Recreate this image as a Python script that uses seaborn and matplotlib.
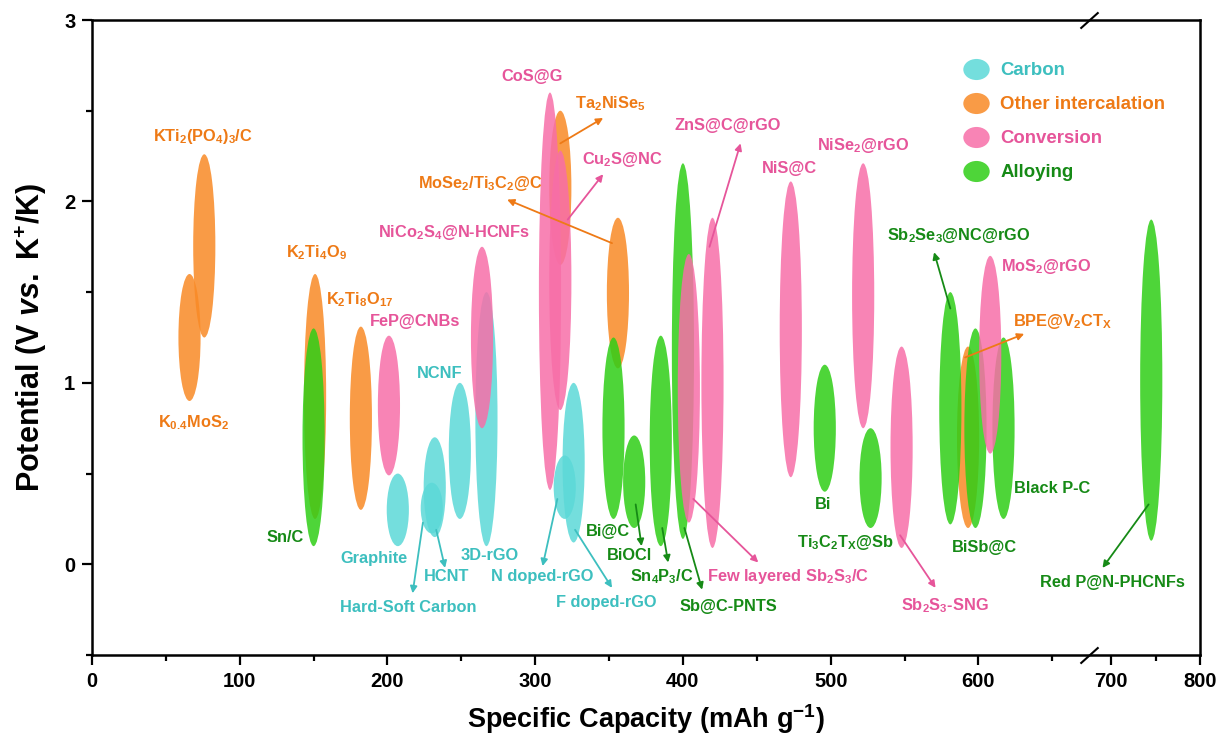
import numpy as np
import matplotlib
matplotlib.use("Agg")
import matplotlib.pyplot as plt
import seaborn as sns
from matplotlib.patches import Ellipse
from matplotlib.path import Path
from matplotlib.transforms import Affine2D, blended_transform_factory
from matplotlib.lines import Line2D

# ---------------- data ----------------
categories = ["Carbon", "Other intercalation", "Conversion", "Alloying"]

materials = [
    # Carbon
    "Graphite", "Hard-Soft Carbon", "HCNT", "NCNF", "3D-rGO", "N doped-rGO", "F doped-rGO",
    # Other intercalation
    "K0.4MoS2", "KTi2(PO4)3/C", "K2Ti4O9", "K2Ti8O17", "Ta2NiSe5", "MoSe2/Ti3C2@C", "BPE@V2CTx",
    # Conversion
    "FeP@CNBs", "NiCo2S4@N-HCNFs", "CoS@G", "Cu2S@NC", "Few layered Sb2S3/C", "ZnS@C@rGO",
    "NiS@C", "NiSe2@rGO", "Sb2S3-SNG", "MoS2@rGO",
    # Alloying
    "Sn/C", "Bi@C", "BiOCl", "Sn4P3/C", "Sb@C-PNTS", "Bi", "Ti3C2Tx@Sb", "Sb2Se3@NC@rGO",
    "BiSb@C", "Black P-C", "Red P@N-PHCNFs",
]
material_type = (["Carbon"] * 7 + ["Other intercalation"] * 7 + ["Conversion"] * 10
                 + ["Alloying"] * 11)
capacity = [207, 230, 232, 249, 267, 320, 326,
            66, 76, 151, 182, 317, 356, 593,
            201, 264, 310, 317, 404, 420, 473, 522, 548, 608,
            150, 353, 367, 385, 400, 496, 527, 581, 598, 617, 745]
v_low = [0.10, 0.17, 0.15, 0.25, 0.10, 0.25, 0.12,
         0.90, 1.25, 0.25, 0.30, 1.65, 1.08, 0.20,
         0.49, 0.75, 0.41, 0.85, 0.23, 0.09, 0.48, 0.75, 0.09, 0.61,
         0.10, 0.25, 0.20, 0.10, 0.14, 0.40, 0.20, 0.22, 0.20, 0.25, 0.13]
v_high = [0.50, 0.45, 0.70, 1.00, 1.50, 0.60, 1.00,
          1.60, 2.26, 1.60, 1.31, 2.50, 1.91, 1.20,
          1.26, 1.75, 2.60, 2.28, 1.71, 1.91, 2.11, 2.21, 1.20, 1.70,
          1.30, 1.25, 0.71, 1.26, 2.21, 1.10, 0.75, 1.50, 1.30, 1.25, 1.90]

# labels: text, x, y, category
label_text = [
    r"KTi$_2$(PO$_4$)$_3$/C", r"K$_{0.4}$MoS$_2$", r"K$_2$Ti$_4$O$_9$", r"K$_2$Ti$_8$O$_{17}$",
    "FeP@CNBs", r"NiCo$_2$S$_4$@N-HCNFs", "NCNF", "Graphite", "Sn/C", "Hard-Soft Carbon",
    "3D-rGO", "HCNT", "N doped-rGO", "F doped-rGO", "Bi@C", "BiOCl", r"Sn$_4$P$_3$/C",
    "Sb@C-PNTS", r"Few layered Sb$_2$S$_3$/C", "Bi", r"Ti$_3$C$_2$T$_\mathbf{X}$@Sb",
    r"Sb$_2$S$_3$-SNG", "BiSb@C", "Black P-C", "Red P@N-PHCNFs", r"BPE@V$_2$CT$_\mathbf{X}$",
    r"NiSe$_2$@rGO", r"Sb$_2$Se$_3$@NC@rGO", r"MoS$_2$@rGO", "CoS@G", r"Ta$_2$NiSe$_5$",
    "ZnS@C@rGO", r"Cu$_2$S@NC", r"MoSe$_2$/Ti$_3$C$_2$@C", "NiS@C",
]
label_x = [75, 69, 152, 181, 219, 245, 235, 191, 131, 214,
           269, 240, 305, 348, 349, 364, 386, 431, 471, 495, 510,
           577, 604, 650, 701, 657, 522, 587, 646, 298, 351,
           430, 359, 263, 472]
label_y = [2.36, 0.78, 1.72, 1.46, 1.34, 1.83, 1.05, 0.03, 0.15, -0.24,
           0.05, -0.07, -0.07, -0.21, 0.18, 0.05, -0.07, -0.23, -0.07, 0.33, 0.12,
           -0.23, 0.09, 0.42, -0.10, 1.34, 2.31, 1.81, 1.64, 2.69, 2.54,
           2.42, 2.23, 2.10, 2.18]
label_cat = ["Other intercalation"] * 4 + ["Conversion"] * 2 + ["Carbon"] * 2 + ["Alloying"] + \
            ["Carbon"] * 5 + ["Alloying"] * 4 + ["Conversion"] + ["Alloying"] * 2 + \
            ["Conversion"] + ["Alloying"] * 3 + ["Other intercalation"] + ["Conversion"] + \
            ["Alloying"] + ["Conversion"] * 2 + ["Other intercalation"] + ["Conversion"] * 2 + \
            ["Other intercalation"] + ["Conversion"]

# arrows: tail (x, y) -> head (x, y), category
arrow_tail_x = [317, 352, 322, 418, 581, 591, 742, 547, 407, 401, 386, 368, 315, 327, 233, 224]
arrow_tail_y = [2.32, 1.77, 1.90, 1.75, 1.41, 1.14, 0.33, 0.16, 0.36, 0.20, 0.20, 0.33, 0.36, 0.19, 0.19, 0.23]
arrow_head_x = [346, 281, 346, 439, 570, 631, 690, 571, 451, 413, 390, 372, 305, 352, 239, 217]
arrow_head_y = [2.46, 2.01, 2.15, 2.32, 1.72, 1.27, -0.02, -0.13, 0.01, -0.14, 0.01, 0.10, -0.01, -0.13, -0.02, -0.16]
arrow_cat = ["Other intercalation", "Other intercalation", "Conversion", "Conversion",
             "Alloying", "Other intercalation", "Alloying", "Conversion", "Conversion",
             "Alloying", "Alloying", "Alloying", "Carbon", "Carbon", "Carbon", "Carbon"]

x_ticks = [0, 100, 200, 300, 400, 500, 600, 700, 800]
y_ticks = [0, 1, 2, 3]

# ---------------- style ----------------
sns.set_theme(style="ticks")
plt.rcParams["font.family"] = ["Liberation Sans", "DejaVu Sans"]
plt.rcParams["font.weight"] = "bold"
plt.rcParams["axes.labelweight"] = "bold"
plt.rcParams["axes.labelcolor"] = "black"
plt.rcParams["text.color"] = "black"
plt.rcParams["xtick.labelsize"] = 14.5
plt.rcParams["ytick.labelsize"] = 14.5
plt.rcParams["mathtext.fontset"] = "custom"
plt.rcParams["mathtext.rm"] = "Liberation Sans:bold"
plt.rcParams["mathtext.bf"] = "Liberation Sans:bold"
plt.rcParams["mathtext.it"] = "Liberation Sans:italic:bold"
plt.rcParams["mathtext.default"] = "bf"

fill = {"Carbon": "#5cd9d8", "Other intercalation": "#f98a26",
        "Conversion": "#f76ea8", "Alloying": "#2fce16"}
tcol = {"Carbon": "#3dbfbf", "Other intercalation": "#ee7a16",
        "Conversion": "#e6559a", "Alloying": "#168a16"}
zord = {"Carbon": 2, "Other intercalation": 3, "Alloying": 4, "Conversion": 5}

BREAK = 675.0
SLOPE = 0.6


def fwd(x):
    x = np.asarray(x, dtype=float)
    return np.where(x <= BREAK, x, BREAK + (x - BREAK) * SLOPE)


def inv(y):
    y = np.asarray(y, dtype=float)
    return np.where(y <= BREAK, y, BREAK + (y - BREAK) / SLOPE)


fig = plt.figure(figsize=(12.26, 7.36), dpi=100)
ax = fig.add_axes([92 / 1226, 1 - 655 / 736, (1200 - 92) / 1226, (655 - 20) / 736])
ax.set_xscale("function", functions=(fwd, inv))
ax.set_xlim(0, 800)
ax.set_ylim(-0.5, 3)

ELL_W = 15.0
for name, kind, x, lo, hi in zip(materials, material_type, capacity, v_low, v_high):
    w = ELL_W if x <= BREAK else ELL_W / SLOPE
    e = Ellipse((x, (lo + hi) / 2), w, hi - lo, facecolor=fill[kind], edgecolor="none",
                alpha=0.85, zorder=zord[kind])
    ax.add_patch(e)

for t, x, y, c in zip(label_text, label_x, label_y, label_cat):
    ax.text(x, y, t, color=tcol[c], fontsize=11.8, fontweight="bold",
            ha="center", va="center", zorder=8)

for tx, ty, hx, hy, c in zip(arrow_tail_x, arrow_tail_y, arrow_head_x, arrow_head_y, arrow_cat):
    ax.annotate("", xy=(hx, hy), xytext=(tx, ty), zorder=9,
                arrowprops=dict(arrowstyle="-|>", color=tcol[c], lw=1.3,
                                mutation_scale=10, shrinkA=0, shrinkB=0))

# axes styling
ax.set_xticks(x_ticks)
ax.set_xticks([50, 150, 250, 350, 450, 550, 650, 750], minor=True)
ax.set_yticks(y_ticks)
ax.set_yticks([-0.5, 0.5, 1.5, 2.5], minor=True)
ax.set_xticklabels([str(v) for v in x_ticks], fontsize=14.5, fontweight="bold", color="black")
ax.set_yticklabels([str(v) for v in y_ticks], fontsize=14.5, fontweight="bold", color="black")
ax.tick_params(which="major", direction="out", length=7, width=1.6, pad=5, color="black")
ax.tick_params(which="minor", direction="out", length=4, width=1.6, color="black")
for s in ax.spines.values():
    s.set_linewidth(1.8)
    s.set_color("black")
ax.grid(False)

ax.set_xlabel(r"Specific Capacity (mAh g$^{-1}$)", fontsize=19.5, labelpad=8, color="black")
ax.set_ylabel(r"Potential (V $\mathit{vs.}$ K$^{+}$/K)", fontsize=22, labelpad=11, color="black")

# axis break marks
trans = blended_transform_factory(ax.transData, ax.transAxes)
slash = Path([(-1.0, -0.9), (1.0, 0.9)], [Path.MOVETO, Path.LINETO])
ax.plot([BREAK, BREAK], [0, 1], linestyle="none", marker=slash, markersize=13,
        markeredgecolor="black", markeredgewidth=1.5, transform=trans, clip_on=False, zorder=10)

# legend
ell_marker = Path.unit_circle().transformed(Affine2D().scale(1.25, 1.0))
handles = [Line2D([], [], linestyle="none", marker=ell_marker, markersize=19,
                  markerfacecolor=fill[c], markeredgecolor="none", alpha=0.85)
           for c in categories]
leg = ax.legend(handles, categories, loc="upper left",
                bbox_to_anchor=((963 - 92) / 1108, (655 - 62) / 635),
                frameon=False, prop={"weight": "bold", "size": 13.4},
                labelcolor=[tcol[c] for c in categories], handlelength=1.4,
                handletextpad=0.6, labelspacing=0.92, borderaxespad=0, borderpad=0)

fig.savefig("out.png", dpi=100)
